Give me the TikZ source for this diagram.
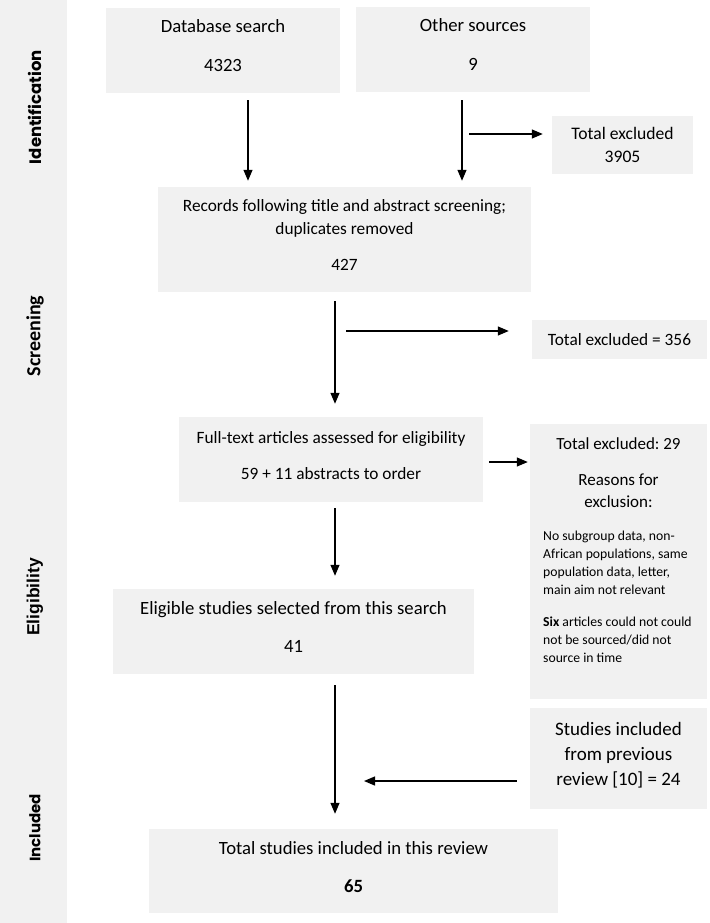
\documentclass[tikz,border=0pt]{standalone}
\usepackage{fontspec}
\setmainfont{Carlito}
\newfontfamily\geofont{Poppins}
\newfontfamily\arialfont{Liberation Sans}
\usetikzlibrary{arrows.meta}
\frenchspacing

\definecolor{boxgray}{HTML}{F1F1F1}

\begin{document}
\begin{tikzpicture}[x=1pt,y=-1pt,
    box/.style={fill=boxgray,inner sep=0pt,align=center,font=\fontsize{17.3}{23}\selectfont},
    big/.style={font=\fontsize{18.7}{24}\selectfont},
    lift/.style={execute at end node={\rule[-9pt]{0pt}{9pt}}},
    stage/.style={rotate=90,inner sep=0pt},
    arr/.style={-{Triangle[length=11pt,width=9pt]},line width=1.3pt}]

    \useasboundingbox (0,0) rectangle (709,923);

    % The band with the stages
    \fill[boxgray] (0,0) rectangle (67,923);
    \node[stage,font=\geofont\bfseries\fontsize{16.5}{18}\selectfont] (ident) at (35,107) {Identification};
    \node[stage,font=\bfseries\fontsize{20}{22}\selectfont] (screen) at (35,336) {Screening};
    \node[stage,font=\arialfont\bfseries\fontsize{17.5}{20}\selectfont] (elig) at (35,597) {Eligibility};
    \node[stage,font=\geofont\bfseries\fontsize{15}{18}\selectfont] (incl) at (35,828) {Included};

    % Place the boxes
    \node[box,big,lift,minimum width=234pt,minimum height=85pt] (db)  at (223,50.5) {Database search\\[15pt]4323};
    \node[box,big,lift,minimum width=234pt,minimum height=85pt] (oth) at (473,49.5) {Other sources\\[15pt]9};
    \node[box,font=\fontsize{17.6}{23}\selectfont,minimum width=141pt,minimum height=58pt] (tot1) at (622.5,145) {Total excluded\\3905};
    \node[box,lift,minimum width=373pt,minimum height=105pt] (rec) at (344.5,239.5)
        {Records following title and abstract screening;\\duplicates removed\\[13pt]427};
    \node[box,minimum width=175pt,minimum height=39pt] (tot2) at (619.5,339.5) {Total excluded = 356};
    \node[box,lift,minimum width=304pt,minimum height=85pt] (full) at (331,459.5)
        {Full-text articles assessed for eligibility\\[13pt]59 + 11 abstracts to order};
    \node[box,minimum width=177pt,minimum height=275pt] (tot3) at (618.5,561.5) {};
    \node[box,big,lift,minimum width=361pt,minimum height=85pt] (sel) at (293.5,631.5)
        {Eligible studies selected from this search\\[15pt]41};
    \node[box,lift,minimum width=177pt,minimum height=101pt,font=\fontsize{19}{25}\selectfont] (prev) at (618.5,758.5)
        {Studies included\\from previous\\review [10] = 24};
    \node[box,big,lift,minimum width=409pt,minimum height=84pt] (total) at (353.5,871)
        {Total studies included in this review\\[14pt]\textbf{65}};

    % Texts of the exclusion box
    \node[anchor=north,inner sep=0pt,align=center,font=\fontsize{17}{22}\selectfont] (why) at (618.5,437.5)
        {Total excluded: 29\\[14pt]Reasons for\\exclusion:};
    \node[anchor=north west,inner sep=0pt,align=left,font=\fontsize{13.7}{18}\selectfont] (list) at (543,531)
        {No subgroup data, non-\\African populations, same\\population data, letter,\\main aim not relevant\\[14pt]%
        \textbf{Six} articles could not could\\not be sourced/did not\\source in time};

    % Columns and free ends of the arrows
    \coordinate (c1) at (248,0);
    \coordinate (c2) at (462,0);
    \coordinate (c3) at (335,0);
    \coordinate (h1) at (469,134);
    \coordinate (h2) at (346,331);
    \coordinate (h3) at (0,462);
    \coordinate (h4) at (364,781);

    % Draw the arrows
    \draw[arr,shorten <=7pt,shorten >=6pt] (db.south -| c1) -- (rec.north -| c1);
    \draw[arr,shorten <=8pt,shorten >=6pt] (oth.south -| c2) -- (rec.north -| c2);
    \draw[arr,shorten >=9pt] (h1) -- (h1 -| tot1.west);
    \draw[arr,shorten <=9pt,shorten >=13pt] (rec.south -| c3) -- (full.north -| c3);
    \draw[arr,shorten >=23pt] (h2) -- (h2 -| tot2.west);
    \draw[arr,shorten <=6pt,shorten >=2pt] (full.east |- h3) -- (tot3.west |- h3);
    \draw[arr,shorten <=6pt,shorten >=13pt] (full.south -| c3) -- (sel.north -| c3);
    \draw[arr,shorten <=11pt,shorten >=15pt] (sel.south -| c3) -- (total.north -| c3);
    \draw[arr,shorten <=13pt] (prev.west |- h4) -- (h4);

\end{tikzpicture}
\end{document}
